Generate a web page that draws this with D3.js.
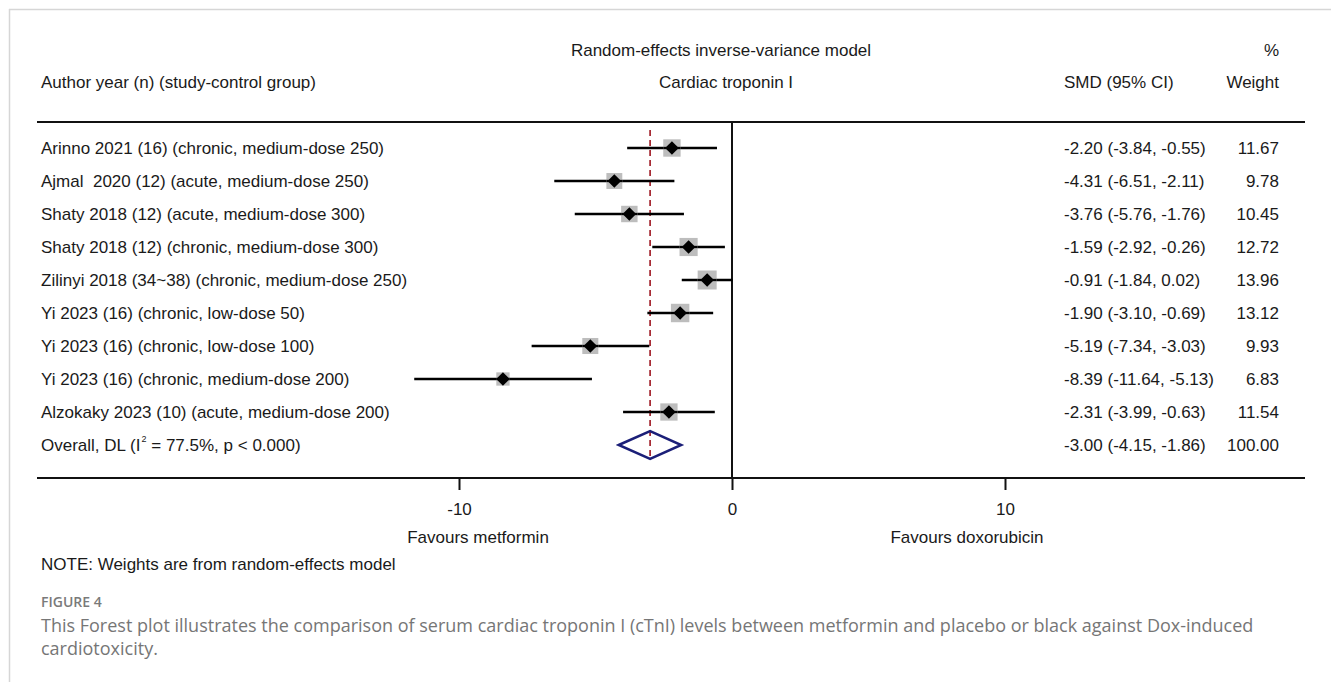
<!DOCTYPE html>
<html>
<head>
<meta charset="utf-8">
<script src="https://cdn.jsdelivr.net/npm/d3@7"></script>
<style>
  html, body { margin: 0; padding: 0; background: #fff; }
  svg { display: block; }
  text { white-space: pre; }
</style>
</head>
<body>
<script>
// ---------------- Data ----------------
const studies = [
  "Arinno 2021 (16) (chronic, medium-dose 250)",
  "Ajmal  2020 (12) (acute, medium-dose 250)",
  "Shaty 2018 (12) (acute, medium-dose 300)",
  "Shaty 2018 (12) (chronic, medium-dose 300)",
  "Zilinyi 2018 (34~38) (chronic, medium-dose 250)",
  "Yi 2023 (16) (chronic, low-dose 50)",
  "Yi 2023 (16) (chronic, low-dose 100)",
  "Yi 2023 (16) (chronic, medium-dose 200)",
  "Alzokaky 2023 (10) (acute, medium-dose 200)"
];
const smd    = [-2.20, -4.31, -3.76, -1.59, -0.91, -1.90, -5.19, -8.39, -2.31];
const ciLow  = [-3.84, -6.51, -5.76, -2.92, -1.84, -3.10, -7.34, -11.64, -3.99];
const ciHigh = [-0.55, -2.11, -1.76, -0.26, 0.02, -0.69, -3.03, -5.13, -0.63];
const weights = [11.67, 9.78, 10.45, 12.72, 13.96, 13.12, 9.93, 6.83, 11.54];
const smdText = [
  "-2.20 (-3.84, -0.55)", "-4.31 (-6.51, -2.11)", "-3.76 (-5.76, -1.76)",
  "-1.59 (-2.92, -0.26)", "-0.91 (-1.84, 0.02)", "-1.90 (-3.10, -0.69)",
  "-5.19 (-7.34, -3.03)", "-8.39 (-11.64, -5.13)", "-2.31 (-3.99, -0.63)"
];
const weightText = ["11.67", "9.78", "10.45", "12.72", "13.96", "13.12", "9.93", "6.83", "11.54"];
const overall = { smd: -3.00, lo: -4.15, hi: -1.86, text: "-3.00 (-4.15, -1.86)", weight: "100.00" };
const xTicks = [-10, 0, 10];

// ---------------- Layout ----------------
const W = 1331, H = 682;
const svg = d3.select("body").append("svg").attr("width", W).attr("height", H);
const FONT = "'Liberation Sans', Arial, sans-serif";
const FS = 17;
const INK = "#1a1a1a";

const x = d3.scaleLinear().domain([-10, 10]).range([459, 1005]);
const rowIdx = d3.range(studies.length + 1);
const y = d3.scalePoint().domain(rowIdx).range([148, 445]);
const boxSize = d3.scaleSqrt().domain([0, d3.max(weights)]).range([0, 19]);

// figure frame (light gray)
svg.append("line").attr("x1", 9).attr("x2", W).attr("y1", 9.5).attr("y2", 9.5)
  .attr("stroke", "#d6d6d6").attr("stroke-width", 1.5);
svg.append("line").attr("x1", 9.5).attr("x2", 9.5).attr("y1", 9).attr("y2", H)
  .attr("stroke", "#d6d6d6").attr("stroke-width", 1.5);

const txt = (s, xx, yy, anchor, size) =>
  svg.append("text").attr("x", xx).attr("y", yy)
    .attr("text-anchor", anchor || "start")
    .attr("font-family", FONT).attr("font-size", size || FS)
    .attr("fill", INK).text(s);

// headers
txt("Random-effects inverse-variance model", 721, 56, "middle");
txt("Cardiac troponin I", 726, 88, "middle");
txt("Author year (n) (study-control group)", 41, 88, "start");
txt("SMD (95% CI)", 1064, 88, "start");
txt("%", 1279, 56, "end");
txt("Weight", 1279, 88, "end");

// horizontal rules
svg.append("line").attr("x1", 37).attr("x2", 1305).attr("y1", 122).attr("y2", 122)
  .attr("stroke", "#111").attr("stroke-width", 2);
svg.append("line").attr("x1", 37).attr("x2", 1305).attr("y1", 478).attr("y2", 478)
  .attr("stroke", "#111").attr("stroke-width", 2);

// zero line
svg.append("line").attr("x1", x(0)).attr("x2", x(0)).attr("y1", 122).attr("y2", 478)
  .attr("stroke", "#111").attr("stroke-width", 2);

// axis
const axis = d3.axisBottom(x).tickValues(xTicks).tickSize(12).tickPadding(13)
  .tickFormat(d3.format("d"));
const gAxis = svg.append("g").attr("transform", "translate(0,478)").call(axis);
gAxis.select(".domain").remove();
gAxis.selectAll(".tick line").attr("stroke", "#111").attr("stroke-width", 2);
gAxis.selectAll(".tick text").attr("font-family", FONT).attr("font-size", FS)
  .attr("fill", INK).text(d => d < 0 ? "-" + Math.abs(d) : d);

txt("Favours metformin", 478, 543, "middle");
txt("Favours doxorubicin", 967, 543, "middle");
txt("NOTE: Weights are from random-effects model", 41, 570, "start");

// overall dashed line
svg.append("line").attr("x1", x(overall.smd)).attr("x2", x(overall.smd))
  .attr("y1", 130).attr("y2", y(studies.length) + 14)
  .attr("stroke", "#a3222c").attr("stroke-width", 1.7).attr("stroke-dasharray", "6,4");

// study rows
const rows = svg.append("g").selectAll("g").data(studies).join("g");
rows.append("line")
  .attr("x1", (d, i) => x(ciLow[i])).attr("x2", (d, i) => x(ciHigh[i]))
  .attr("y1", (d, i) => y(i)).attr("y2", (d, i) => y(i))
  .attr("stroke", "#000").attr("stroke-width", 2.3);
rows.append("rect")
  .attr("x", (d, i) => x(smd[i]) - boxSize(weights[i]) / 2)
  .attr("y", (d, i) => y(i) - boxSize(weights[i]) / 2)
  .attr("width", (d, i) => boxSize(weights[i]))
  .attr("height", (d, i) => boxSize(weights[i]))
  .attr("fill", "#bdbdbd");
rows.append("line")
  .attr("x1", (d, i) => x(smd[i]) - boxSize(weights[i]) / 2)
  .attr("x2", (d, i) => x(smd[i]) + boxSize(weights[i]) / 2)
  .attr("y1", (d, i) => y(i)).attr("y2", (d, i) => y(i))
  .attr("stroke", "#000").attr("stroke-width", 2.3);
rows.append("path")
  .attr("d", (d, i) => {
    const cx = x(smd[i]), cy = y(i), r = 6.8;
    return `M${cx - r},${cy}L${cx},${cy - r}L${cx + r},${cy}L${cx},${cy + r}Z`;
  })
  .attr("fill", "#000");

rows.append("text").attr("x", 41).attr("y", (d, i) => y(i) + 6)
  .attr("font-family", FONT).attr("font-size", FS).attr("fill", INK).text(d => d);
rows.append("text").attr("x", 1064).attr("y", (d, i) => y(i) + 6)
  .attr("font-family", FONT).attr("font-size", FS).attr("fill", INK).text((d, i) => smdText[i]);
rows.append("text").attr("x", 1279).attr("y", (d, i) => y(i) + 6).attr("text-anchor", "end")
  .attr("font-family", FONT).attr("font-size", FS).attr("fill", INK).text((d, i) => weightText[i]);

// overall row
const oy = y(studies.length);
svg.append("path")
  .attr("d", `M${x(overall.lo)},${oy}L${x(overall.smd)},${oy - 14}L${x(overall.hi)},${oy}L${x(overall.smd)},${oy + 14}Z`)
  .attr("fill", "none").attr("stroke", "#1b1f78").attr("stroke-width", 2.5);
const ot = svg.append("text").attr("x", 41).attr("y", oy + 6)
  .attr("font-family", FONT).attr("font-size", FS).attr("fill", INK);
ot.append("tspan").text("Overall, DL (I");
ot.append("tspan").attr("font-size", 9).attr("dx", 1).attr("dy", -9).text("2");
ot.append("tspan").attr("dy", 9).text(" = 77.5%, p < 0.000)");
txt(overall.text, 1064, oy + 6, "start");
txt(overall.weight, 1279, oy + 6, "end");

// caption
const CAP = "'Open Sans', 'Noto Sans', sans-serif";
svg.append("text").attr("x", 41).attr("y", 607).attr("font-family", CAP)
  .attr("font-size", 14).attr("fill", "#7a7a7a").attr("font-weight", 600).text("FIGURE 4");
svg.append("text").attr("x", 41).attr("y", 632).attr("font-family", CAP)
  .attr("font-size", 18).attr("fill", "#767676")
  .text("This Forest plot illustrates the comparison of serum cardiac troponin I (cTnI) levels between metformin and placebo or black against Dox-induced");
svg.append("text").attr("x", 41).attr("y", 655).attr("font-family", CAP)
  .attr("font-size", 18).attr("fill", "#767676").text("cardiotoxicity.");
</script>
</body>
</html>
